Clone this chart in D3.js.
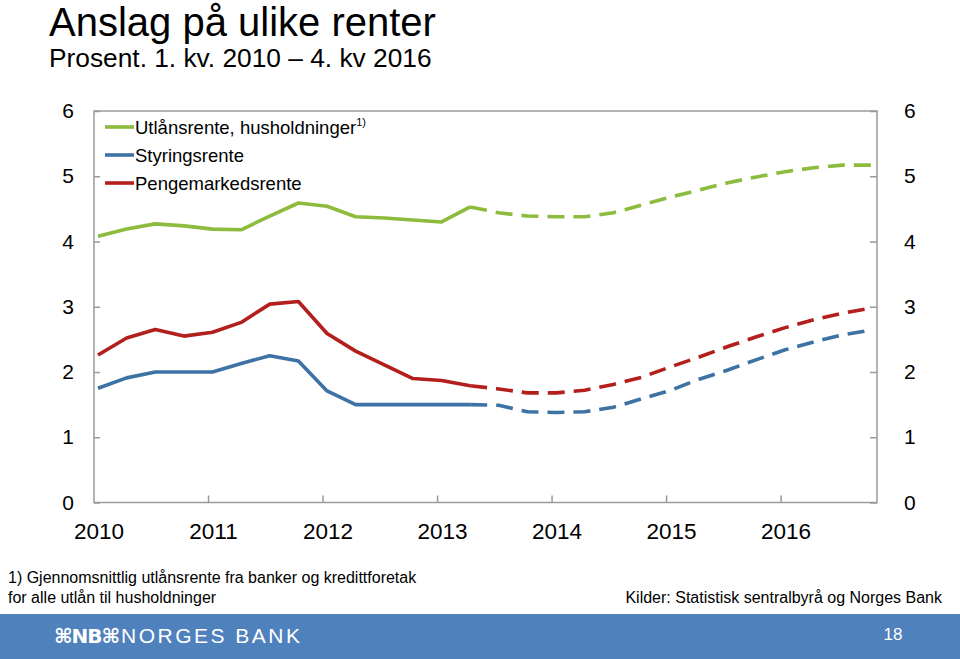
<!DOCTYPE html>
<html><head><meta charset="utf-8">
<script src="https://cdn.jsdelivr.net/npm/d3@7"></script>
<style>body{margin:0;background:#fff}svg{display:block;font-family:"Liberation Sans",Arial,sans-serif}</style>
</head><body>
<script>
const years = ["2010","2011","2012","2013","2014","2015","2016"];
const yTicks = [0,1,2,3,4,5,6];
const forecastStart = 13; // index where the dashed (forecast) part begins
const utlansrente = [4.08,4.19,4.27,4.24,4.19,4.18,4.39,4.59,4.54,4.38,4.36,4.33,4.30,4.53,
  4.44,4.39,4.38,4.38,4.44,4.56,4.68,4.79,4.90,4.99,5.07,5.13,5.17,5.17];
const styringsrente = [1.75,1.91,2.0,2.0,2.0,2.13,2.25,2.17,1.71,1.50,1.50,1.50,1.50,1.50,
  1.49,1.39,1.38,1.39,1.46,1.59,1.72,1.89,2.03,2.19,2.34,2.46,2.57,2.64];
const pengemarked = [2.26,2.52,2.65,2.55,2.61,2.76,3.04,3.08,2.59,2.32,2.11,1.90,1.87,1.79,
  1.74,1.68,1.68,1.72,1.81,1.92,2.08,2.23,2.39,2.54,2.68,2.80,2.90,2.98];
const seriesNames = ["Utlånsrente, husholdninger","Styringsrente","Pengemarkedsrente"];
const colors = ["#8cbb3d","#3d72a4","#b21f1c"];

const W=960,H=659;
const svg=d3.select("body").append("svg").attr("width",W).attr("height",H);
const pL=94,pR=877,pT=111,pB=502.5;
const x=d3.scaleLinear().domain([0,27]).range([98,871]);
const y=d3.scaleLinear().domain([0,6]).range([pB,pT]);

// title
svg.append("text").attr("x",49).attr("y",36).attr("font-size",40).attr("fill","#000").text("Anslag på ulike renter");
svg.append("text").attr("x",49).attr("y",67).attr("font-size",26.3).attr("fill","#000").text("Prosent. 1. kv. 2010 – 4. kv 2016");

// frame
const axc="#9a9a9a";
svg.append("rect").attr("x",pL).attr("y",pT).attr("width",pR-pL).attr("height",pB-pT)
  .attr("fill","none").attr("stroke",axc).attr("stroke-width",1.5);

// y ticks both sides
const yl=svg.append("g").attr("transform",`translate(${pL},0)`).call(d3.axisLeft(y).tickValues(yTicks).tickSize(-6).tickPadding(20).tickFormat(d3.format("d")));
const yr=svg.append("g").attr("transform",`translate(${pR},0)`).call(d3.axisRight(y).tickValues(yTicks).tickSize(-7).tickPadding(27).tickFormat(d3.format("d")));
[yl,yr].forEach(g=>{g.select(".domain").remove();g.selectAll("line").attr("stroke",axc).attr("stroke-width",1.5);
  g.selectAll("text").attr("font-size",21).attr("fill","#000").attr("font-family","Liberation Sans, Arial, sans-serif");});

// x ticks
const xt=svg.append("g");
years.forEach((yv,k)=>{
  if(k>0) xt.append("line").attr("x1",x(4*k)-4).attr("x2",x(4*k)-4).attr("y1",pB).attr("y2",pB-7).attr("stroke",axc).attr("stroke-width",1.5);
  xt.append("text").attr("x",x(4*k)+1).attr("y",539).attr("text-anchor","middle").attr("font-size",22.5).text(yv);
});

// lines
const data=[utlansrente,styringsrente,pengemarked];
const line=d3.line().x(d=>x(d.i)).y(d=>y(d.v));
data.forEach((s,si)=>{
  const pts=s.map((v,i)=>({i,v}));
  svg.append("path").attr("d",line(pts.slice(0,forecastStart+1))).attr("fill","none").attr("stroke",colors[si]).attr("stroke-width",3.6).attr("stroke-linejoin","round");
  svg.append("path").attr("d",line(pts.slice(forecastStart))).attr("fill","none").attr("stroke",colors[si]).attr("stroke-width",3.6).attr("stroke-dasharray","17,9");
});

// legend
seriesNames.forEach((n,i)=>{
  const ly=127+28*i;
  svg.append("line").attr("x1",105).attr("x2",134).attr("y1",ly).attr("y2",ly).attr("stroke",colors[i]).attr("stroke-width",3.6);
  const t=svg.append("text").attr("x",135).attr("y",ly+6.5).attr("font-size",18.5).text(n);
  if(i===0) t.append("tspan").attr("font-size",11).attr("dy",-8).text("1)");
});

// footnotes
svg.append("text").attr("x",8).attr("y",583).attr("font-size",16).text("1) Gjennomsnittlig utlånsrente fra banker og kredittforetak");
svg.append("text").attr("x",8).attr("y",603).attr("font-size",16).text("for alle utlån til husholdninger");
svg.append("text").attr("x",942).attr("y",603).attr("font-size",16).attr("text-anchor","end").text("Kilder: Statistisk sentralbyrå og Norges Bank");

// footer band
svg.append("rect").attr("x",0).attr("y",614).attr("width",W).attr("height",H-614).attr("fill","#4f81bd");
svg.append("text").attr("x",54).attr("y",643).attr("font-size",20).attr("fill","#fff").attr("font-family","DejaVu Sans").attr("font-weight","bold").attr("letter-spacing",-1).text("⌘NB⌘");
svg.append("text").attr("x",121).attr("y",643).attr("font-size",21).attr("fill","#fff").attr("font-family","Liberation Sans, sans-serif").attr("letter-spacing",2.5).text("NORGES BANK");
svg.append("text").attr("x",893).attr("y",640).attr("font-size",17).attr("fill","#fff").attr("text-anchor","middle").text("18");
</script>
</body></html>
